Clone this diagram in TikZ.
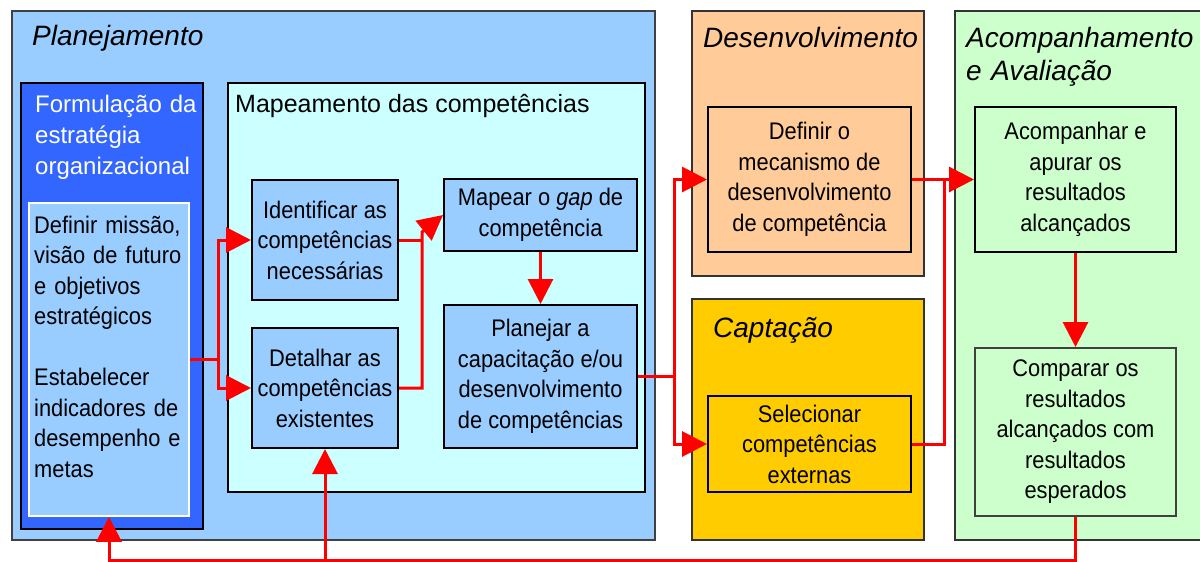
\documentclass[tikz,border=0pt]{standalone}
\usepackage{fontspec}
\setmainfont{Liberation Sans}
\newfontfamily\narrowfont[FakeStretch=0.91]{Liberation Sans}
\usetikzlibrary{arrows.meta}

\definecolor{skyblue}{HTML}{99CCFF}
\definecolor{royal}{HTML}{3366FF}
\definecolor{paleaqua}{HTML}{CCFFFF}
\definecolor{peach}{HTML}{FFCC99}
\definecolor{gold}{HTML}{FFCC00}
\definecolor{mint}{HTML}{CCFFCC}

\begin{document}
\begin{tikzpicture}[x=1pt, y=-1pt,
  task/.style={draw=black, line width=2pt, align=center, inner sep=2pt,
    font=\narrowfont\fontsize{24}{30.5}\selectfont},
  heading/.style={anchor=base west, inner sep=0pt, align=left,
    font=\itshape\fontsize{28}{34}\selectfont},
  flow/.style={draw=red, line width=3pt},
  flowarrow/.style={flow, -{Triangle[length=25pt,width=25pt]}}]

\clip (0,0) rectangle (1200,562);

% fases
\path [fill=skyblue, draw=black!75, line width=1.5pt] (12,11) rectangle (655,540);
\path [fill=peach, draw=black!80, line width=1.5pt] (692,11) rectangle (924,276);
\path [fill=gold, draw=black!80, line width=1.5pt] (692,299) rectangle (924,540);
\path [fill=mint, draw=black!80, line width=1.5pt] (955,11) rectangle (1220,540);

\path [fill=royal, draw=black, line width=2pt] (21,83) rectangle (203,529);
\path [fill=paleaqua, draw=black, line width=1.5pt] (228,83) rectangle (645,492);

\node [heading] (plantitle) at (32,45) {Planejamento};
\node [heading] (devtitle) at (703,47) {Desenvolvimento};
\node [heading] (hiretitle) at (713,337) {Captação};
\node [heading, text width=240pt] (evaltitle) at (966,47) {Acompanhamento\\[-1pt]e Avaliação};

\node [anchor=base west, text width=170pt, align=left, inner sep=0pt, text=white,
  font=\fontsize{24}{31}\selectfont] (strategytitle) at (35,112)
  {Formulação da\\estratégia\\organizacional};
\node [anchor=base west, inner sep=0pt, font=\fontsize{25}{30}\selectfont] (maptitle)
  at (235,112) {Mapeamento das competências};

% caixas
\node [draw=white, line width=1.5pt, fill=skyblue, minimum width=160pt,
  minimum height=313pt] (goals) at (109,359.5) {};
\node [anchor=base west, text width=155pt, align=left, inner sep=0pt,
  font=\narrowfont\fontsize{24}{30.5}\selectfont] (goalstext) at (34,233)
  {Definir missão,\\visão de futuro\\e objetivos\\estratégicos\\[30.5pt]
   Estabelecer\\indicadores de\\desempenho e\\metas};

\node [task, fill=skyblue, minimum width=146pt, minimum height=120pt] (ident) at (325,240)
  {Identificar as\\competências\\necessárias};
\node [task, fill=skyblue, minimum width=146pt, minimum height=120pt] (detail) at (325,388)
  {Detalhar as\\competências\\existentes};
\node [task, fill=skyblue, minimum width=193pt, minimum height=72pt] (gap) at (540.5,215)
  {Mapear o \textit{gap} de\\competência};
\node [task, fill=skyblue, minimum width=193pt, minimum height=143pt] (plan) at (540.5,376.5)
  {Planejar a\\capacitação e/ou\\desenvolvimento\\de competências};
\node [task, fill=peach, minimum width=203pt, minimum height=145pt] (mech) at (809.5,179.5)
  {Definir o\\mecanismo de\\desenvolvimento\\de competência};
\node [task, fill=gold, minimum width=203pt, minimum height=96pt] (select) at (809.5,444)
  {Selecionar\\competências\\externas};
\node [task, fill=mint, minimum width=201pt, minimum height=145pt] (track) at (1075.5,179.5)
  {Acompanhar e\\apurar os\\resultados\\alcançados};
\node [task, fill=mint, draw=black!75, minimum width=201pt, minimum height=168pt] (compare)
  at (1075.5,432) {Comparar os\\resultados\\alcançados com\\resultados\\esperados};

% fluxos
\draw [flow] (goals.east) -- ++(29,0) coordinate (fork1);
\draw [flowarrow] (fork1) |- (ident.west);
\draw [flowarrow] (fork1) |- (detail.west);

\draw [flow] (ident.east) -- ++(23,0);
\draw [flowarrow] (detail.east) -- ++(23,0) -- ++(0,-156) -- (gap.west);
\draw [flowarrow] (gap.south) -- (plan.north);

\draw [flow] (plan.east) -- ++(36,0) coordinate (fork2);
\draw [flowarrow] (fork2) |- (mech.west);
\draw [flowarrow] (fork2) |- (select.west);

\draw [flowarrow] (mech.east) -- (track.west);
\draw [flow] (select.east) -- ++(32,0) coordinate (join) -- (join |- track.west);
\draw [flowarrow] (track.south) -- (compare.north);

\draw [flowarrow] (compare.south) -- ++(0,43) coordinate (low) -| (goals.south);
\draw [flowarrow] (low -| detail.south) -- (detail.south);

\end{tikzpicture}
\end{document}
